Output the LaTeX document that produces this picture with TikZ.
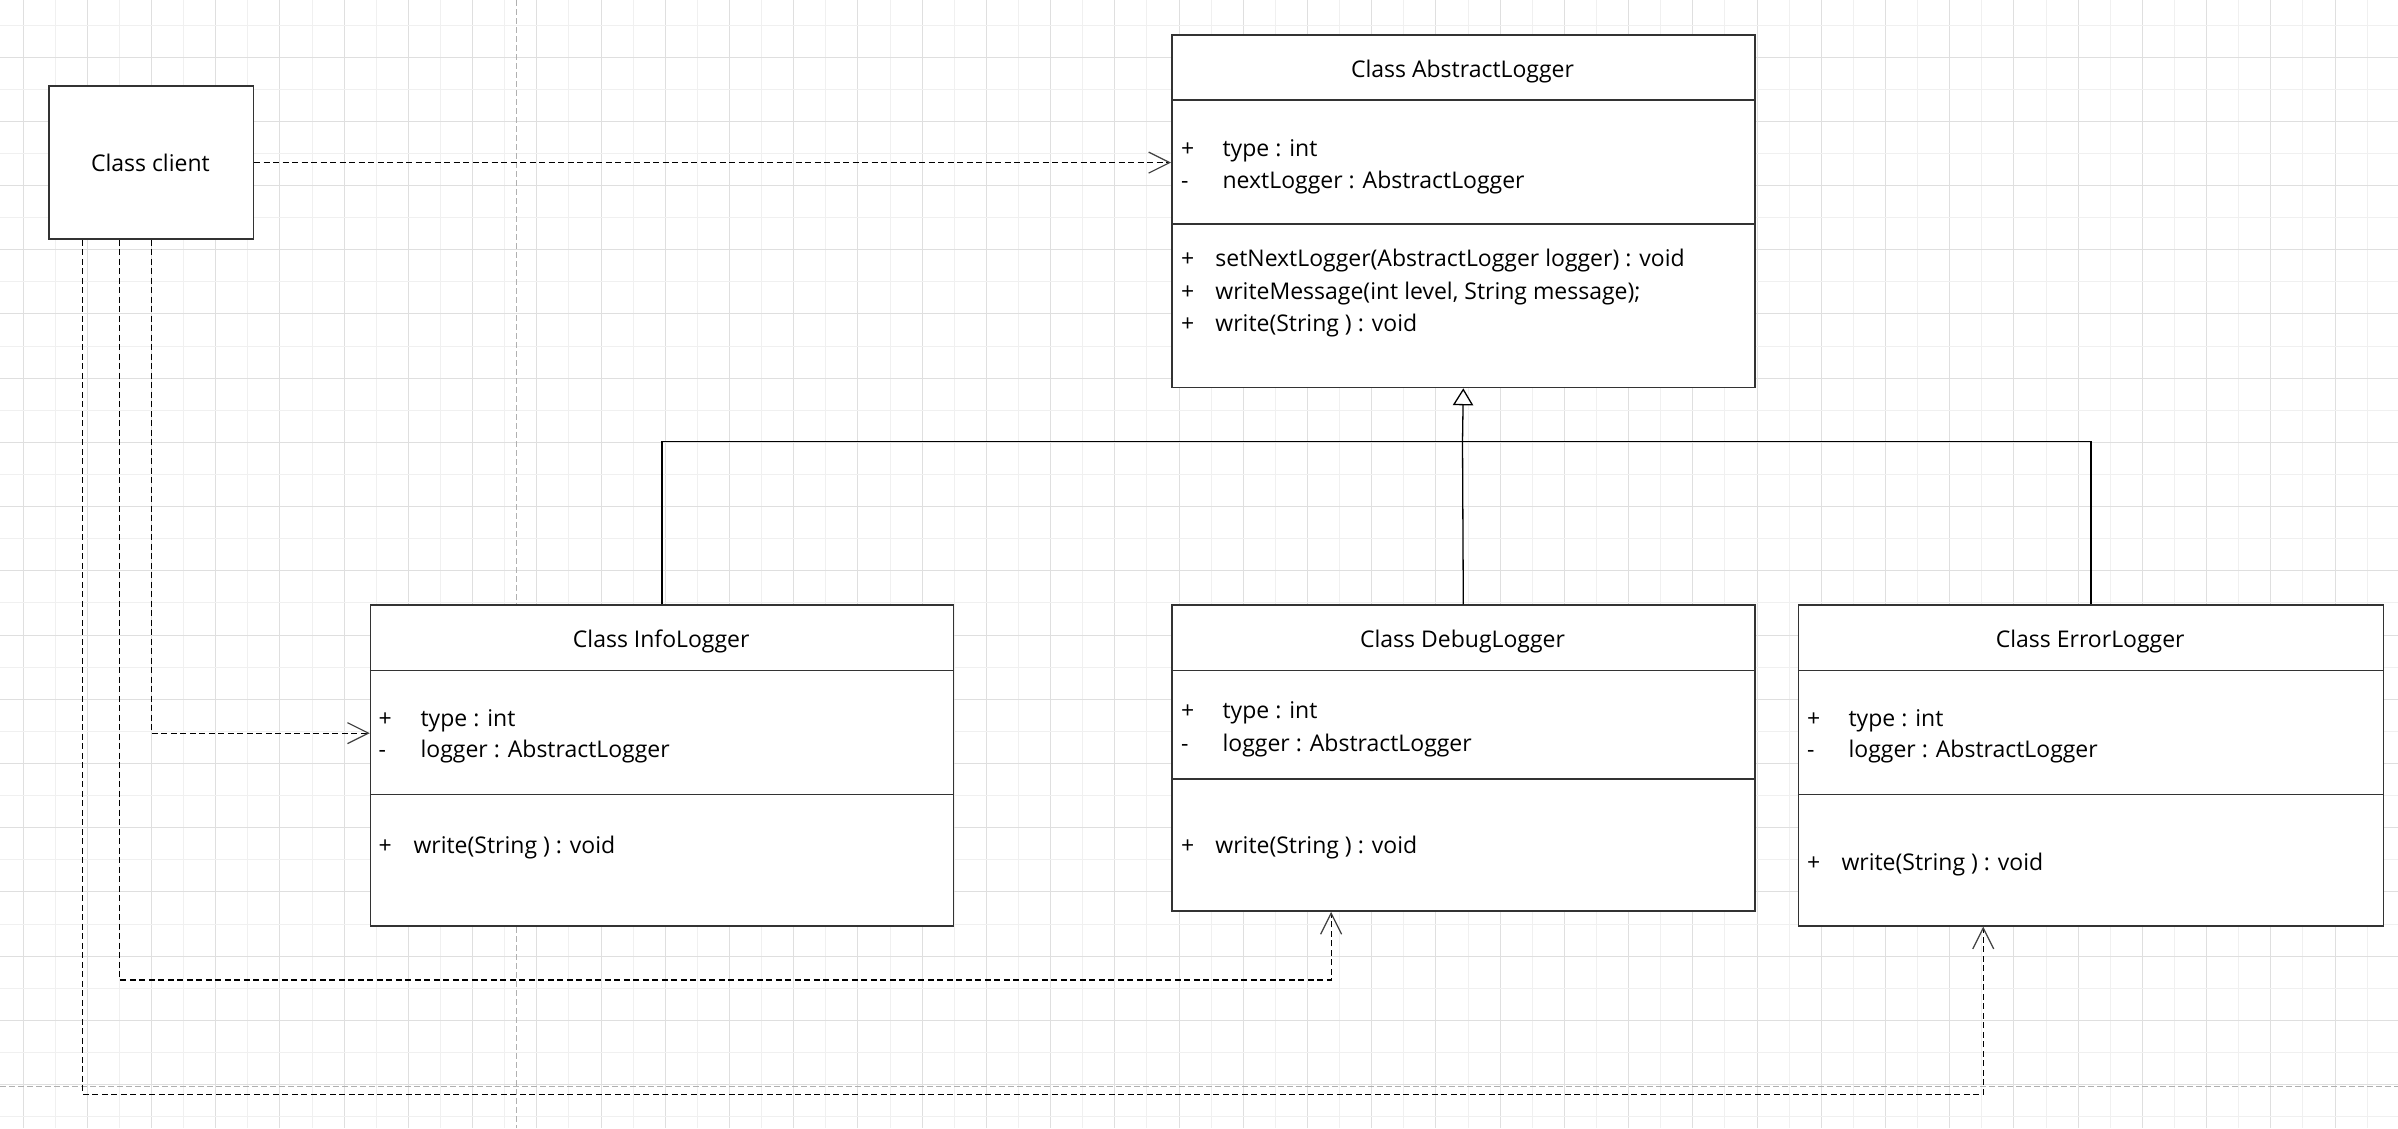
\documentclass[tikz,border=0pt]{standalone}
\usepackage{fontspec}
\setmainfont{Open Sans}
\usetikzlibrary{arrows.meta,calc}
\definecolor{gridlight}{HTML}{F0F0F0}
\definecolor{griddark}{HTML}{DFDFDF}
\definecolor{pagebrk}{HTML}{B0B0B0}
\definecolor{boxline}{HTML}{333333}
\newcommand\umlfs{\fontsize{23}{28}\selectfont}
\begin{document}
\begin{tikzpicture}[x=1pt,y=-1pt,
  classbox/.style={draw=boxline, line width=1.6pt, fill=white, inner sep=0pt, anchor=north west},
  divider/.style={draw=boxline, line width=1.6pt},
  ttl/.style={anchor=base, inner sep=0pt, font=\umlfs},
  txt/.style={anchor=base west, inner sep=0pt, font=\umlfs},
  dep/.style={draw=black, line width=1.15pt, dash pattern=on 6pt off 3.5pt,
    -{Straight Barb[length=21pt, width=21pt, line width=1.2pt, color=black!75]}},
  inh/.style={draw=black, line width=1.3pt},
  lgrid/.style={draw=gridlight, line width=1pt},
  dgrid/.style={draw=griddark, line width=1pt},
  pbreak/.style={draw=pagebrk, line width=1pt, dash pattern=on 6pt off 3pt}]
\useasboundingbox (0,0) rectangle (2398,1128);
\fill[white] (0,0) rectangle (2398,1128);
% background grid
\foreach \i in {0,...,36} {\draw[lgrid] ({55.2+64.22*\i},0) -- ++(0,1128);}
\foreach \i in {0,...,37} {\draw[dgrid] ({23.1+64.22*\i},0) -- ++(0,1128);}
\foreach \j in {0,...,17} {\draw[lgrid] (0,{25+64.22*\j}) -- ++(2398,0);}
\foreach \j in {0,...,16} {\draw[dgrid] (0,{57.1+64.22*\j}) -- ++(2398,0);}
\draw[pbreak] (516.7,0) -- (516.7,1128);
\draw[pbreak] (0,1086) -- (2398,1086);

% client
\node[classbox, minimum width=204.4pt, minimum height=153pt] (client) at (48.2,85.3) {};
\node[ttl] (clientT) at (150.4,171.7) {Class client};

% AbstractLogger
\node[classbox, minimum width=583pt, minimum height=352.7pt] (abs) at (1171,34) {};
\draw[divider] ([yshift=-66pt]abs.north west) -- ([yshift=-66pt]abs.north east);
\draw[divider] ([yshift=-189.7pt]abs.north west) -- ([yshift=-189.7pt]abs.north east);
\node[ttl] (absT) at (1462.5,77.3) {Class AbstractLogger};
\node[txt] (absA1s) at (1180.8,156.7) {+};
\node[txt] (absA1) at (1222.4,156.7) {type : int};
\node[txt] (absA2s) at (1180.8,188.3) {-};
\node[txt] (absA2) at (1222.4,188.3) {nextLogger : AbstractLogger};
\node[txt] (absM1s) at (1180.8,266.7) {+};
\node[txt] (absM1) at (1215.2,266.7) {setNextLogger(AbstractLogger logger) : void};
\node[txt] (absM2s) at (1180.8,299.3) {+};
\node[txt] (absM2) at (1215.2,299.3) {writeMessage(int level, String message);};
\node[txt] (absM3s) at (1180.8,331.7) {+};
\node[txt] (absM3) at (1215.2,331.7) {write(String ) : void};

% InfoLogger
\node[classbox, minimum width=582.8pt, minimum height=320.7pt] (info) at (369.8,604.3) {};
\draw[divider] ([yshift=-66pt]info.north west) -- ([yshift=-66pt]info.north east);
\draw[divider] ([yshift=-190pt]info.north west) -- ([yshift=-190pt]info.north east);
\node[ttl] (infoT) at (661.2,647.6) {Class InfoLogger};
\node[txt] (infoA1s) at (378.5,726) {+};
\node[txt] (infoA1) at (420.4,726) {type : int};
\node[txt] (infoA2s) at (378.5,757.7) {-};
\node[txt] (infoA2) at (420.4,757.7) {logger : AbstractLogger};
\node[txt] (infoM1s) at (378.5,853.3) {+};
\node[txt] (infoM1) at (413.3,853.3) {write(String ) : void};

% DebugLogger
\node[classbox, minimum width=583pt, minimum height=306pt] (debug) at (1171,604.3) {};
\draw[divider] ([yshift=-66pt]debug.north west) -- ([yshift=-66pt]debug.north east);
\draw[divider] ([yshift=-174.7pt]debug.north west) -- ([yshift=-174.7pt]debug.north east);
\node[ttl] (debugT) at (1462.5,647.6) {Class DebugLogger};
\node[txt] (debugA1s) at (1180.8,718.3) {+};
\node[txt] (debugA1) at (1222.4,718.3) {type : int};
\node[txt] (debugA2s) at (1180.8,751) {-};
\node[txt] (debugA2) at (1222.4,751) {logger : AbstractLogger};
\node[txt] (debugM1s) at (1180.8,853.3) {+};
\node[txt] (debugM1) at (1215.2,853.3) {write(String ) : void};

% ErrorLogger
\node[classbox, minimum width=584.8pt, minimum height=320.7pt] (error) at (1797.8,604.3) {};
\draw[divider] ([yshift=-66pt]error.north west) -- ([yshift=-66pt]error.north east);
\draw[divider] ([yshift=-190pt]error.north west) -- ([yshift=-190pt]error.north east);
\node[ttl] (errorT) at (2090.2,647.6) {Class ErrorLogger};
\node[txt] (errorA1s) at (1806.9,726) {+};
\node[txt] (errorA1) at (1848.4,726) {type : int};
\node[txt] (errorA2s) at (1806.9,757.7) {-};
\node[txt] (errorA2) at (1848.4,757.7) {logger : AbstractLogger};
\node[txt] (errorM1s) at (1806.9,870) {+};
\node[txt] (errorM1) at (1841.3,870) {write(String ) : void};

% inheritance
\coordinate (bus) at (1462.5,441.7);
\draw[inh] (info.north) |- (bus) -| (error.north);
\draw[inh] (debug.north) -- (bus);
\draw[inh, -{Triangle[open, length=17pt, width=20.4pt, fill=white, line width=1.3pt]}] (bus) -- (abs.south);

% dependencies
\coordinate (dbend) at (119.4,980);
\coordinate (ebend) at (82.3,1094.3);
\draw[dep] (client.east) -- (client.east -| abs.west);
\draw[dep] (client.south) |- ([yshift=32.3pt]info.west);
\draw[dep] (client.south -| dbend) -- (dbend) -| ([xshift=-132.2pt]debug.south);
\draw[dep] (client.south -| ebend) -- (ebend) -| ([xshift=-107.8pt]error.south);
\end{tikzpicture}
\end{document}
